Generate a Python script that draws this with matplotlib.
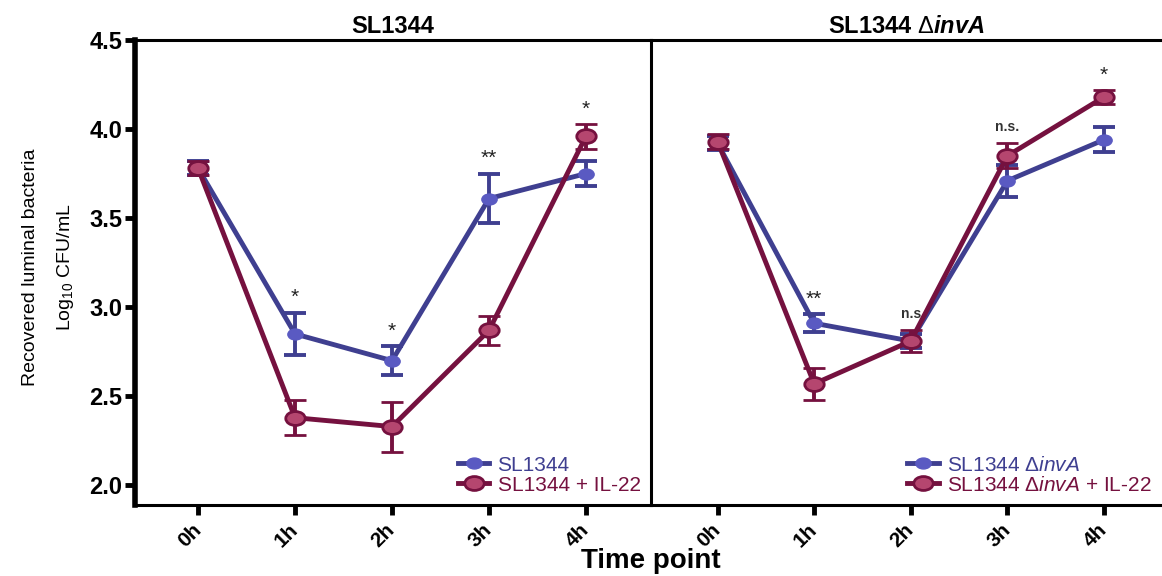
import matplotlib
matplotlib.use("Agg")
import matplotlib.pyplot as plt
from matplotlib.path import Path
from matplotlib.transforms import Affine2D
from matplotlib.lines import Line2D

plt.rcParams['font.family'] = ['Liberation Sans', 'DejaVu Sans']
plt.rcParams['mathtext.fontset'] = 'custom'
plt.rcParams['mathtext.rm'] = 'Liberation Sans'
plt.rcParams['mathtext.it'] = 'Liberation Sans:italic'
plt.rcParams['mathtext.bf'] = 'Liberation Sans:bold'
plt.rcParams['mathtext.bfit'] = 'Liberation Sans:italic:bold'

times = ["0h", "1h", "2h", "3h", "4h"]

# SL1344 panel
wt_mean = [3.78, 2.85, 2.70, 3.61, 3.75]
wt_err = [0.04, 0.12, 0.08, 0.14, 0.07]
wt_il22_mean = [3.78, 2.38, 2.33, 2.87, 3.96]
wt_il22_err = [0.04, 0.10, 0.14, 0.08, 0.07]
wt_sig = ["", "*", "*", "**", "*"]

# SL1344 dinvA panel
inv_mean = [3.92, 2.91, 2.81, 3.71, 3.94]
inv_err = [0.04, 0.05, 0.04, 0.09, 0.07]
inv_il22_mean = [3.93, 2.57, 2.81, 3.85, 4.18]
inv_il22_err = [0.04, 0.09, 0.06, 0.07, 0.04]
inv_sig = ["", "**", "n.s", "n.s.", "*"]

blue_line = "#3f3f90"
blue_fill = "#5a5ac2"
red_line = "#75113f"
red_fill = "#b5466f"

# slightly wide ellipse marker (the original figure is stretched sideways)
ellipse = Path.unit_circle().transformed(Affine2D().scale(1.4, 1.0))

fig = plt.figure(figsize=(11.62, 5.76), dpi=100)
ax1 = fig.add_axes([0.1162, 0.1233, 0.444, 0.8073])
ax2 = fig.add_axes([0.5602, 0.1233, 0.4398, 0.8073])

x = list(range(len(times)))


def draw(ax, m1, e1, m2, e2, sig, lab1, lab2, title):
    ax.errorbar(x, m1, yerr=e1, color=blue_line, lw=3.5, marker=ellipse, ms=11,
                mfc=blue_fill, mec=blue_fill, capsize=8, capthick=2.8,
                elinewidth=2.8, zorder=3)
    ax.errorbar(x, m2, yerr=e2, color=red_line, lw=3.5, marker=ellipse, ms=14,
                mfc=red_fill, mec=red_line, mew=2, capsize=8, capthick=2.8,
                elinewidth=2.8, zorder=4)
    for i, s in enumerate(sig):
        if not s:
            continue
        top = max(m1[i] + e1[i], m2[i] + e2[i])
        if s.startswith("n"):
            ax.text(x[i], top + 0.05, s, ha='center', va='bottom', fontsize=10,
                    fontweight='bold', color='#333333')
        else:
            ax.text(x[i], top + 0.03, s, ha='center', va='bottom', fontsize=15,
                    color='#222222')
    ax.set_xticks(x)
    ax.set_xticklabels(times, rotation=45, ha='right', va='center',
                       rotation_mode='anchor', fontsize=15, fontweight='bold')
    ax.tick_params(axis='x', length=7, width=3.5, direction='out', pad=9)
    ax.set_ylim(1.89, 4.5)
    ax.set_title(title, fontsize=17, fontweight='bold', pad=5)
    for sp in ax.spines.values():
        sp.set_linewidth(2.2)
    ax.spines['right'].set_visible(False)
    handles = [
        Line2D([], [], color=blue_line, lw=3.5, marker=ellipse, ms=11,
               mfc=blue_fill, mec=blue_fill),
        Line2D([], [], color=red_line, lw=3.5, marker=ellipse, ms=14,
               mfc=red_fill, mec=red_line, mew=2),
    ]
    leg = ax.legend(handles, [lab1, lab2], loc='lower right', frameon=False,
                    fontsize=15, handlelength=1.5, handletextpad=0.4,
                    labelspacing=0.05, borderaxespad=0.1)
    for t, c in zip(leg.get_texts(), [blue_line, red_line]):
        t.set_color(c)


draw(ax1, wt_mean, wt_err, wt_il22_mean, wt_il22_err, wt_sig,
     "SL1344", "SL1344 + IL-22", "SL1344")
draw(ax2, inv_mean, inv_err, inv_il22_mean, inv_il22_err, inv_sig,
     r"SL1344 $\Delta\mathit{invA}$", r"SL1344 $\Delta\mathit{invA}$ + IL-22",
     r"SL1344 $\Delta\mathbfit{invA}$")

ax1.set_xlim(-0.65, 4.67)
ax2.set_xlim(-0.69, 4.6)

ax1.set_yticks([2.0, 2.5, 3.0, 3.5, 4.0, 4.5])
ax1.set_yticklabels(["2.0", "2.5", "3.0", "3.5", "4.0", "4.5"], fontsize=17,
                    fontweight='bold')
ax1.tick_params(axis='y', length=7, width=3.5, direction='out', pad=2)
ax1.spines['left'].set_linewidth(4)
ax2.set_yticks([])

fig.text(0.026, 0.536, "Recovered luminal bacteria", rotation=90,
         ha='center', va='center', fontsize=14)
fig.text(0.056, 0.536, "Log$_{10}$ CFU/mL", rotation=90,
         ha='center', va='center', fontsize=14)
fig.text(0.56, 0.004, "Time point", ha='center', va='bottom', fontsize=20,
         fontweight='bold')

fig.savefig("out.png", dpi=100)
